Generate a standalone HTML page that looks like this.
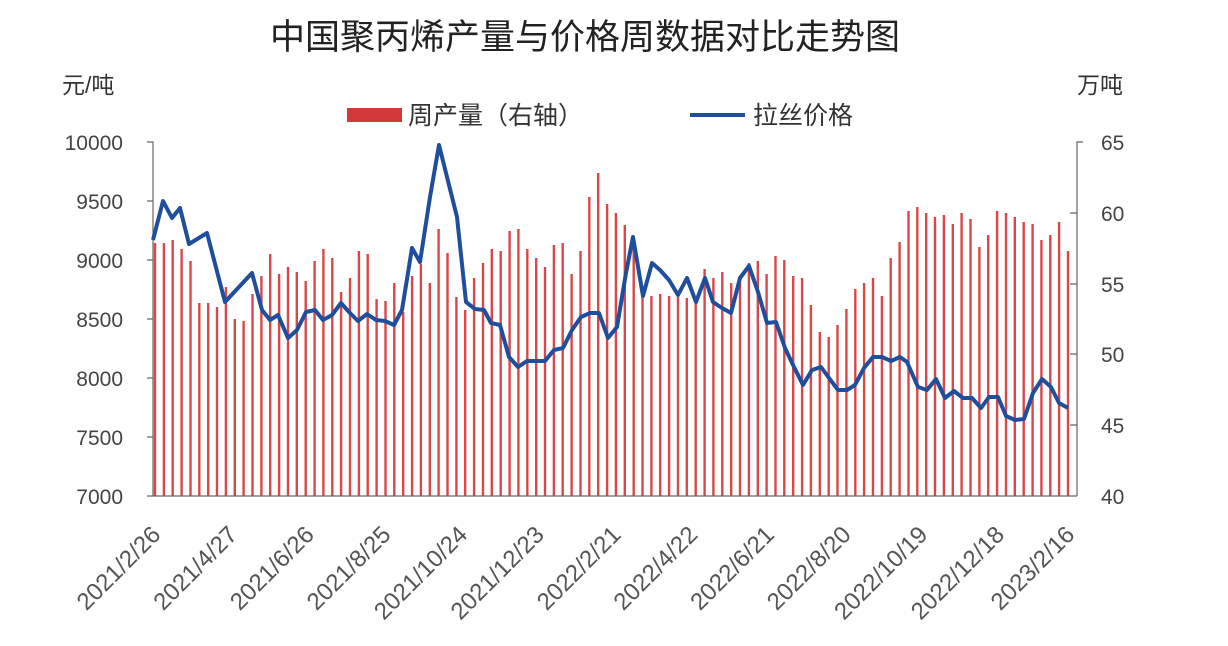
<!DOCTYPE html>
<html><head><meta charset="utf-8"><style>
html,body{margin:0;padding:0;background:#fff;}
svg{display:block;font-family:"Liberation Sans","Noto Sans CJK SC",sans-serif;}
</style></head><body>
<svg width="1228" height="646" viewBox="0 0 1228 646" xmlns="http://www.w3.org/2000/svg">
<rect width="1228" height="646" fill="#fff"/>
<text x="585" y="49" font-size="35" text-anchor="middle" fill="#222">中国聚丙烯产量与价格周数据对比走势图</text>
<text x="62" y="93" font-size="23" fill="#333">元/吨</text>
<text x="1077" y="93" font-size="23" fill="#333">万吨</text>
<rect x="347" y="108" width="55" height="14" fill="#d23a3a"/>
<text x="408" y="124" font-size="25" fill="#333">周产量（右轴）</text>
<line x1="690" y1="115" x2="745" y2="115" stroke="#1f4e9c" stroke-width="4"/>
<text x="753" y="124" font-size="25" fill="#333">拉丝价格</text>
<g font-size="21" fill="#444" text-anchor="end">
<text x="123" y="150">10000</text><text x="123" y="209">9500</text><text x="123" y="268">9000</text><text x="123" y="327">8500</text><text x="123" y="386">8000</text><text x="123" y="445">7500</text><text x="123" y="504">7000</text>
</g>
<g font-size="21" fill="#444">
<text x="1101" y="150">65</text><text x="1101" y="221">60</text><text x="1101" y="292">55</text><text x="1101" y="362">50</text><text x="1101" y="433">45</text><text x="1101" y="504">40</text>
</g>
<path fill="none" stroke="#d9474a" stroke-width="2.4" d="
M155.0 496V243M163.9 496V243M172.7 496V240M181.6 496V249M190.5 496V261M199.3 496V303M208.2 496V303M217.0 496V307M225.9 496V287M234.8 496V319
M243.6 496V321M252.5 496V294M261.4 496V276M270.2 496V254M279.1 496V274M288.0 496V267M296.8 496V272M305.7 496V281M314.6 496V261M323.4 496V249
M332.3 496V258M341.1 496V292M350.0 496V278M358.9 496V251M367.7 496V254M376.6 496V299M385.5 496V301M394.3 496V283M403.2 496V312M412.1 496V276
M420.9 496V264M429.8 496V283M438.6 496V229M447.5 496V253M456.4 496V297M465.2 496V310M474.1 496V278M483.0 496V263M491.8 496V249M500.7 496V251
M509.6 496V231M518.4 496V229M527.3 496V249M536.2 496V258M545.0 496V267M553.9 496V245M562.7 496V243M571.6 496V274M580.5 496V251M589.3 496V197
M598.2 496V173M607.1 496V204M615.9 496V213M624.8 496V225M633.7 496V240M642.5 496V297M651.4 496V296M660.2 496V294M669.1 496V296M678.0 496V297
M686.8 496V298M695.7 496V298M704.6 496V269M713.4 496V278M722.3 496V272M731.2 496V283M740.0 496V278M748.9 496V263M757.8 496V261M766.6 496V274
M775.5 496V256M784.3 496V260M793.2 496V276M802.1 496V278M810.9 496V305M819.8 496V332M828.7 496V337M837.5 496V325M846.4 496V309M855.3 496V289
M864.1 496V283M873.0 496V278M881.9 496V296M890.7 496V258M899.6 496V242M908.5 496V211M917.3 496V207M926.2 496V213M935.0 496V217M943.9 496V215
M952.8 496V224M961.6 496V213M970.5 496V219M979.4 496V247M988.2 496V235M997.1 496V211M1006.0 496V213M1014.8 496V217M1023.7 496V222M1032.6 496V224
M1041.4 496V240M1050.3 496V235M1059.1 496V222M1068.0 496V251"/>
<g stroke="#666" stroke-width="1.2" fill="none">
<path d="M147 142H153V496M147 201H153M147 260H153M147 319H153M147 378H153M147 437H153M147 496H153"/>
<path d="M1083 142H1077V496M1070 213H1077M1070 284H1077M1070 354H1077M1070 425H1077"/>
<path d="M153 496H1077"/>
</g>
<polyline fill="none" stroke="#1f4e9c" stroke-width="4" stroke-linejoin="round" points="153,240 163,201 172,218 180,208 189,244 207,233 225,302 252,273 262,310 270,320 278,315 288,338 297,330 306,312 315,310 323,320 332,315 341,303 349,312 358,321 367,314 376,320 385,321 394,325 402,310 412,248 420,262 430,197 439,145 457,217 466,302 475,309 484,310 491,323 500,325 509,357 518,367 527,361 545,361 554,350 563,348 572,330 581,317 590,313 599,313 608,338 617,327 626,273 633,237 643,296 652,263 660,270 669,280 678,295 687,278 696,302 705,278 713,302 722,308 731,313 740,278 749,266 758,292 767,323 776,322 785,348 794,367 803,385 812,370 821,367 829,378 838,390 847,390 855,385 864,368 873,357 882,357 891,361 900,357 907,362 918,387 927,390 936,379 945,398 954,391 963,398 972,398 981,408 989,397 998,397 1006,416 1015,420 1024,419 1033,393 1042,379 1051,387 1059,403 1068,408"/>
<g font-size="24" fill="#555" text-anchor="end">
<text transform="translate(162,536) rotate(-45)">2021/2/26</text>
<text transform="translate(238.7,536) rotate(-45)">2021/4/27</text>
<text transform="translate(315.4,536) rotate(-45)">2021/6/26</text>
<text transform="translate(392.1,536) rotate(-45)">2021/8/25</text>
<text transform="translate(468.8,536) rotate(-45)">2021/10/24</text>
<text transform="translate(545.5,536) rotate(-45)">2021/12/23</text>
<text transform="translate(622.2,536) rotate(-45)">2022/2/21</text>
<text transform="translate(698.9,536) rotate(-45)">2022/4/22</text>
<text transform="translate(775.6,536) rotate(-45)">2022/6/21</text>
<text transform="translate(852.3,536) rotate(-45)">2022/8/20</text>
<text transform="translate(929,536) rotate(-45)">2022/10/19</text>
<text transform="translate(1005.7,536) rotate(-45)">2022/12/18</text>
<text transform="translate(1076,536) rotate(-45)">2023/2/16</text>
</g>
</svg>
</body></html>
